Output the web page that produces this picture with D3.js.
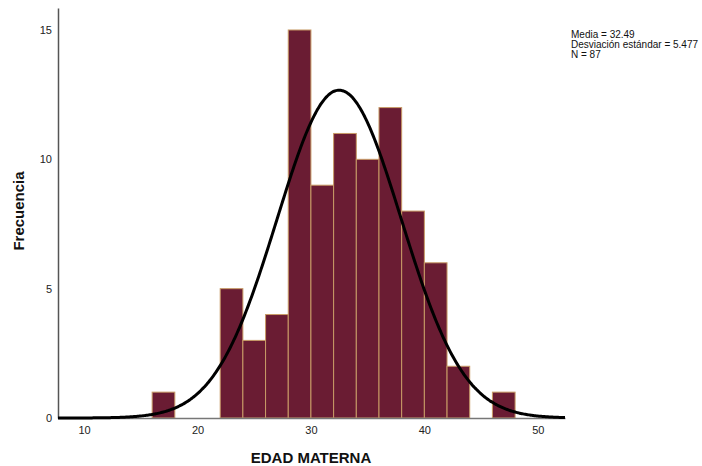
<!DOCTYPE html>
<html>
<head>
<meta charset="utf-8">
<script src="https://cdn.jsdelivr.net/npm/d3@7"></script>
<style>
  html, body { margin: 0; padding: 0; background: #fff; }
  svg { display: block; font-family: Arial, "Liberation Sans", sans-serif; }
</style>
</head>
<body>
<svg id="chart" width="702" height="466"></svg>
<script>
// Histogram bins of maternal age (lower edge, upper edge, count)
const binStart = [16, 22, 24, 26, 28, 30, 32, 34, 36, 38, 40, 42, 46];
const binEnd   = [18, 24, 26, 28, 30, 32, 34, 36, 38, 40, 42, 44, 48];
const counts   = [1, 5, 3, 4, 15, 9, 11, 10, 12, 8, 6, 2, 1];
const xTicks = [10, 20, 30, 40, 50];
const yTicks = [0, 5, 10, 15];
const mean = 32.49, sd = 5.477, n = 87, binWidth = 2;
const statsLines = ["Media = 32.49", "Desviación estándar = 5.477", "N = 87"];

const svg = d3.select("#chart");
const x = d3.scaleLinear().domain([7.7, 52.4]).range([58, 565]);
const y = d3.scaleLinear().domain([0, 15.85]).range([418, 8]);

// Bars
svg.append("g").selectAll("rect")
  .data(counts)
  .join("rect")
  .attr("x", (d, i) => x(binStart[i]))
  .attr("y", d => y(d))
  .attr("width", (d, i) => x(binEnd[i]) - x(binStart[i]))
  .attr("height", d => y(0) - y(d))
  .attr("fill", "#6a1c33")
  .attr("stroke", "#c89b66")
  .attr("stroke-width", 1);

// Axes (lines only, no tick marks)
const xAxis = svg.append("g").attr("transform", `translate(0,${y(0)})`)
  .call(d3.axisBottom(x).tickValues(xTicks).tickSize(0).tickPadding(8).tickFormat(d3.format("d")));
xAxis.select(".domain").attr("stroke", "#777").attr("stroke-width", 1.5);
xAxis.selectAll("text").attr("font-size", 11).attr("fill", "#222")
  .attr("font-family", "Arial, 'Liberation Sans', sans-serif");

const yAxis = svg.append("g").attr("transform", `translate(${x.range()[0]},0)`)
  .call(d3.axisLeft(y).tickValues(yTicks).tickSize(0).tickPadding(6).tickFormat(d3.format("d")));
yAxis.select(".domain").attr("stroke", "#555").attr("stroke-width", 1.5);
yAxis.selectAll("text").attr("font-size", 11).attr("fill", "#222")
  .attr("font-family", "Arial, 'Liberation Sans', sans-serif");

// Normal curve scaled to counts
const pts = d3.range(7.7, 52.4001, 0.1).map(v => [v,
  n * binWidth / (sd * Math.sqrt(2 * Math.PI)) * Math.exp(-0.5 * ((v - mean) / sd) ** 2)]);
svg.append("path")
  .datum(pts)
  .attr("fill", "none")
  .attr("stroke", "#000")
  .attr("stroke-width", 3)
  .attr("d", d3.line().x(d => x(d[0])).y(d => y(d[1])).curve(d3.curveBasis));

// Axis titles
svg.append("text")
  .attr("x", 311).attr("y", 463)
  .attr("text-anchor", "middle")
  .attr("font-size", 15).attr("font-weight", "bold").attr("fill", "#111")
  .text("EDAD MATERNA");
svg.append("text")
  .attr("transform", "translate(24,211) rotate(-90)")
  .attr("text-anchor", "middle")
  .attr("font-size", 15).attr("font-weight", "bold").attr("fill", "#111")
  .text("Frecuencia");

// Summary statistics
svg.append("g").selectAll("text")
  .data(statsLines)
  .join("text")
  .attr("x", 571)
  .attr("y", (d, i) => 38 + i * 10)
  .attr("font-size", 10).attr("fill", "#111")
  .text(d => d);
</script>
</body>
</html>
